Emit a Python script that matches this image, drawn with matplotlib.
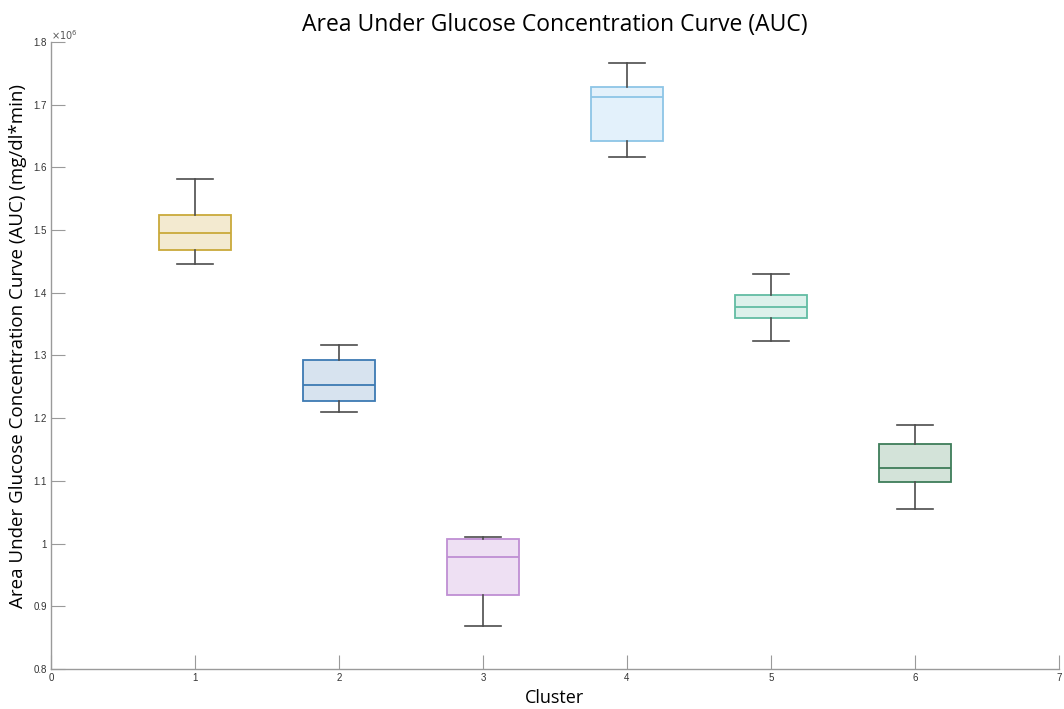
import matplotlib
matplotlib.use("Agg")
import matplotlib.pyplot as plt
from matplotlib.ticker import FuncFormatter

clusters = [1, 2, 3, 4, 5, 6]
whisker_low = [1.446e6, 1.210e6, 0.869e6, 1.617e6, 1.323e6, 1.055e6]
q1 = [1.468e6, 1.227e6, 0.918e6, 1.642e6, 1.360e6, 1.098e6]
medians = [1.495e6, 1.253e6, 0.979e6, 1.712e6, 1.377e6, 1.121e6]
q3 = [1.524e6, 1.293e6, 1.007e6, 1.728e6, 1.3965e6, 1.159e6]
whisker_high = [1.581e6, 1.317e6, 1.011e6, 1.766e6, 1.430e6, 1.189e6]

edge_colors = ["#c9a93a", "#3d7ab3", "#bf8fd3", "#8dc5e6", "#62bca3", "#3e7d59"]
fill_colors = ["#f3ead0", "#d7e3ef", "#eee0f3", "#e3f1fb", "#dcf1eb", "#d3e3d9"]

stats = []
for i, c in enumerate(clusters):
    stats.append(dict(label=str(c), whislo=whisker_low[i], q1=q1[i], med=medians[i],
                      q3=q3[i], whishi=whisker_high[i], fliers=[]))

fig = plt.figure(figsize=(10.64, 7.09), dpi=100)
ax = fig.add_axes([0.0479, 0.0564, 0.9474, 0.8844])

bp = ax.bxp(stats, positions=clusters, widths=0.5, patch_artist=True,
            showfliers=False,
            whiskerprops=dict(color="#4d4d4d", linewidth=1.2),
            capprops=dict(color="#4d4d4d", linewidth=1.2),
            capwidths=0.25)
for i, box in enumerate(bp["boxes"]):
    box.set_facecolor(fill_colors[i])
    box.set_edgecolor(edge_colors[i])
    box.set_linewidth(1.3)
for i, med in enumerate(bp["medians"]):
    med.set_color(edge_colors[i])
    med.set_linewidth(1.3)

ax.set_xlim(0, 7)
ax.set_ylim(0.8e6, 1.8e6)
ax.set_xticks(range(0, 8))
ax.set_xticklabels([str(i) for i in range(0, 8)])
ax.set_yticks([0.8e6 + 0.1e6 * i for i in range(11)])
ax.yaxis.set_major_formatter(FuncFormatter(lambda v, p: "%g" % round(v / 1e6, 2)))

for s in ["top", "right"]:
    ax.spines[s].set_visible(False)
for s in ["left", "bottom"]:
    ax.spines[s].set_color("#9a9a9a")
    ax.spines[s].set_linewidth(1.0)
ax.tick_params(direction="in", length=10, width=0.8, color="#9a9a9a",
               labelsize=7, labelcolor="#333333", pad=3)
for lab in ax.get_xticklabels() + ax.get_yticklabels():
    lab.set_family("Liberation Sans")

ax.text(0.0, 1.0, r"$\times10^6$", transform=ax.transAxes, fontsize=7,
        color="#555555", ha="left", va="bottom")

ax.set_title("Area Under Glucose Concentration Curve (AUC)", fontsize=16.5,
             family="Open Sans", pad=8)
ax.set_xlabel("Cluster", fontsize=13, family="Open Sans", labelpad=4)
ax.set_ylabel("Area Under Glucose Concentration Curve (AUC) (mg/dl*min)",
              fontsize=13.5, family="Open Sans")
ax.yaxis.set_label_coords(-0.024, 0.515)

fig.savefig("out.png", dpi=100)
